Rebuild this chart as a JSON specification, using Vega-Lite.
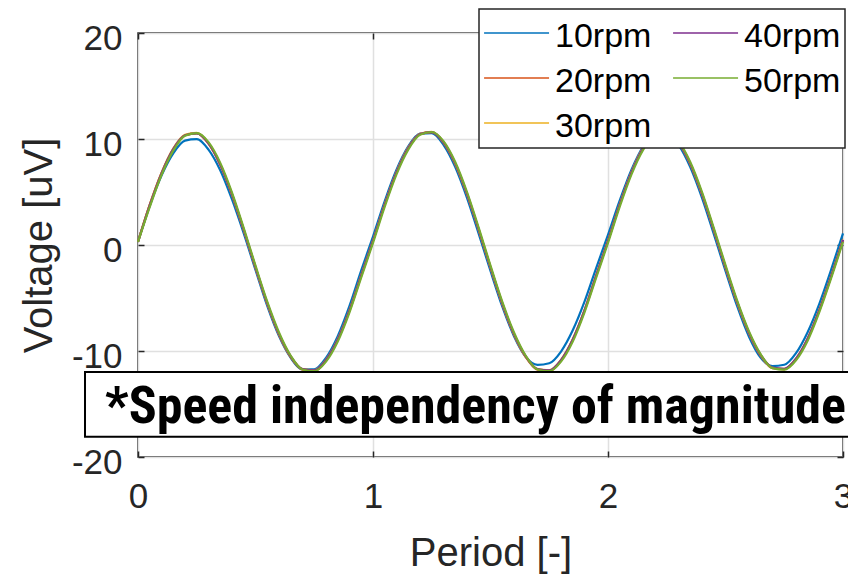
{
  "$schema": "https://vega.github.io/schema/vega-lite/v6.json",
  "width": 705,
  "height": 424,
  "autosize": {"type": "none"},
  "padding": {"left": 138, "top": 33, "right": 5, "bottom": 117},
  "background": "white",
  "config": {
    "font": "Liberation Sans",
    "view": {"stroke": "#262626", "strokeWidth": 1.5},
    "legend": {"strokeWidth": 1.5}
  },
  "layer": [
    {
      "data": {
        "values": [
          {"t": 0.00, "10rpm": 0.3, "20rpm": 0.3, "30rpm": 0.3, "40rpm": 0.3, "50rpm": 0.3},
          {"t": 0.05, "10rpm": 3.7, "20rpm": 3.78, "30rpm": 3.8, "40rpm": 3.76, "50rpm": 3.6},
          {"t": 0.10, "10rpm": 6.55, "20rpm": 6.78, "30rpm": 6.8, "40rpm": 6.76, "50rpm": 6.6},
          {"t": 0.15, "10rpm": 8.65, "20rpm": 9.06, "30rpm": 9.1, "40rpm": 9.05, "50rpm": 8.9},
          {"t": 0.20, "10rpm": 9.85, "20rpm": 10.36, "30rpm": 10.4, "40rpm": 10.36, "50rpm": 10.3},
          {"t": 0.25, "10rpm": 9.98, "20rpm": 10.53, "30rpm": 10.58, "40rpm": 10.54, "50rpm": 10.55},
          {"t": 0.30, "10rpm": 9.0, "20rpm": 9.56, "30rpm": 9.6, "40rpm": 9.6, "50rpm": 9.7},
          {"t": 0.35, "10rpm": 7.05, "20rpm": 7.56, "30rpm": 7.6, "40rpm": 7.6, "50rpm": 7.75},
          {"t": 0.40, "10rpm": 4.3, "20rpm": 4.74, "30rpm": 4.78, "40rpm": 4.8, "50rpm": 4.95},
          {"t": 0.45, "10rpm": 1.1, "20rpm": 1.4, "30rpm": 1.44, "40rpm": 1.45, "50rpm": 1.6},
          {"t": 0.50, "10rpm": -2.35, "20rpm": -2.14, "30rpm": -2.1, "40rpm": -2.08, "50rpm": -1.95},
          {"t": 0.55, "10rpm": -5.75, "20rpm": -5.53, "30rpm": -5.5, "40rpm": -5.48, "50rpm": -5.35},
          {"t": 0.60, "10rpm": -8.6, "20rpm": -8.45, "30rpm": -8.4, "40rpm": -8.38, "50rpm": -8.25},
          {"t": 0.65, "10rpm": -10.65, "20rpm": -10.58, "30rpm": -10.53, "40rpm": -10.5, "50rpm": -10.45},
          {"t": 0.70, "10rpm": -11.72, "20rpm": -11.77, "30rpm": -11.71, "40rpm": -11.7, "50rpm": -11.75},
          {"t": 0.75, "10rpm": -11.72, "20rpm": -11.88, "30rpm": -11.82, "40rpm": -11.82, "50rpm": -11.9},
          {"t": 0.80, "10rpm": -10.65, "20rpm": -10.9, "30rpm": -10.85, "40rpm": -10.86, "50rpm": -11.0},
          {"t": 0.85, "10rpm": -8.6, "20rpm": -8.95, "30rpm": -8.9, "40rpm": -8.92, "50rpm": -9.1},
          {"t": 0.90, "10rpm": -5.75, "20rpm": -6.2, "30rpm": -6.15, "40rpm": -6.17, "50rpm": -6.35},
          {"t": 0.95, "10rpm": -2.4, "20rpm": -2.88, "30rpm": -2.84, "40rpm": -2.86, "50rpm": -3.05},
          {"t": 1.00, "10rpm": 0.8, "20rpm": 0.38, "30rpm": 0.4, "40rpm": 0.38, "50rpm": 0.2},
          {"t": 1.05, "10rpm": 4.15, "20rpm": 3.82, "30rpm": 3.84, "40rpm": 3.8, "50rpm": 3.62},
          {"t": 1.10, "10rpm": 7.1, "20rpm": 6.85, "30rpm": 6.88, "40rpm": 6.84, "50rpm": 6.67},
          {"t": 1.15, "10rpm": 9.3, "20rpm": 9.15, "30rpm": 9.18, "40rpm": 9.14, "50rpm": 9.0},
          {"t": 1.20, "10rpm": 10.5, "20rpm": 10.46, "30rpm": 10.5, "40rpm": 10.46, "50rpm": 10.4},
          {"t": 1.25, "10rpm": 10.55, "20rpm": 10.64, "30rpm": 10.68, "40rpm": 10.64, "50rpm": 10.66},
          {"t": 1.30, "10rpm": 9.45, "20rpm": 9.66, "30rpm": 9.7, "40rpm": 9.7, "50rpm": 9.8},
          {"t": 1.35, "10rpm": 7.35, "20rpm": 7.64, "30rpm": 7.68, "40rpm": 7.7, "50rpm": 7.83},
          {"t": 1.40, "10rpm": 4.45, "20rpm": 4.79, "30rpm": 4.82, "40rpm": 4.85, "50rpm": 5.0},
          {"t": 1.45, "10rpm": 1.05, "20rpm": 1.41, "30rpm": 1.45, "40rpm": 1.46, "50rpm": 1.62},
          {"t": 1.50, "10rpm": -2.45, "20rpm": -2.14, "30rpm": -2.1, "40rpm": -2.08, "50rpm": -1.95},
          {"t": 1.55, "10rpm": -5.8, "20rpm": -5.55, "30rpm": -5.5, "40rpm": -5.48, "50rpm": -5.35},
          {"t": 1.60, "10rpm": -8.6, "20rpm": -8.45, "30rpm": -8.4, "40rpm": -8.38, "50rpm": -8.25},
          {"t": 1.65, "10rpm": -10.55, "20rpm": -10.58, "30rpm": -10.53, "40rpm": -10.5, "50rpm": -10.45},
          {"t": 1.70, "10rpm": -11.3, "20rpm": -11.77, "30rpm": -11.71, "40rpm": -11.7, "50rpm": -11.75},
          {"t": 1.75, "10rpm": -11.15, "20rpm": -11.88, "30rpm": -11.82, "40rpm": -11.82, "50rpm": -11.9},
          {"t": 1.80, "10rpm": -10.05, "20rpm": -10.9, "30rpm": -10.85, "40rpm": -10.86, "50rpm": -11.0},
          {"t": 1.85, "10rpm": -8.05, "20rpm": -8.95, "30rpm": -8.9, "40rpm": -8.92, "50rpm": -9.1},
          {"t": 1.90, "10rpm": -5.35, "20rpm": -6.2, "30rpm": -6.15, "40rpm": -6.17, "50rpm": -6.35},
          {"t": 1.95, "10rpm": -2.15, "20rpm": -2.88, "30rpm": -2.84, "40rpm": -2.86, "50rpm": -3.05},
          {"t": 2.00, "10rpm": 0.95, "20rpm": 0.38, "30rpm": 0.4, "40rpm": 0.38, "50rpm": 0.2},
          {"t": 2.05, "10rpm": 4.2, "20rpm": 3.82, "30rpm": 3.84, "40rpm": 3.8, "50rpm": 3.62},
          {"t": 2.10, "10rpm": 7.1, "20rpm": 6.85, "30rpm": 6.88, "40rpm": 6.84, "50rpm": 6.67},
          {"t": 2.15, "10rpm": 9.3, "20rpm": 9.15, "30rpm": 9.18, "40rpm": 9.14, "50rpm": 9.0},
          {"t": 2.20, "10rpm": 10.5, "20rpm": 10.46, "30rpm": 10.5, "40rpm": 10.46, "50rpm": 10.4},
          {"t": 2.25, "10rpm": 10.55, "20rpm": 10.64, "30rpm": 10.68, "40rpm": 10.64, "50rpm": 10.66},
          {"t": 2.30, "10rpm": 9.45, "20rpm": 9.66, "30rpm": 9.7, "40rpm": 9.7, "50rpm": 9.8},
          {"t": 2.35, "10rpm": 7.35, "20rpm": 7.64, "30rpm": 7.68, "40rpm": 7.7, "50rpm": 7.83},
          {"t": 2.40, "10rpm": 4.45, "20rpm": 4.79, "30rpm": 4.82, "40rpm": 4.85, "50rpm": 5.0},
          {"t": 2.45, "10rpm": 1.05, "20rpm": 1.41, "30rpm": 1.45, "40rpm": 1.46, "50rpm": 1.62},
          {"t": 2.50, "10rpm": -2.45, "20rpm": -2.12, "30rpm": -2.08, "40rpm": -2.06, "50rpm": -1.9},
          {"t": 2.55, "10rpm": -5.8, "20rpm": -5.47, "30rpm": -5.43, "40rpm": -5.4, "50rpm": -5.27},
          {"t": 2.60, "10rpm": -8.65, "20rpm": -8.33, "30rpm": -8.3, "40rpm": -8.28, "50rpm": -8.15},
          {"t": 2.65, "10rpm": -10.65, "20rpm": -10.45, "30rpm": -10.4, "40rpm": -10.38, "50rpm": -10.32},
          {"t": 2.70, "10rpm": -11.42, "20rpm": -11.63, "30rpm": -11.58, "40rpm": -11.57, "50rpm": -11.62},
          {"t": 2.75, "10rpm": -11.3, "20rpm": -11.73, "30rpm": -11.68, "40rpm": -11.68, "50rpm": -11.76},
          {"t": 2.80, "10rpm": -10.2, "20rpm": -10.76, "30rpm": -10.72, "40rpm": -10.73, "50rpm": -10.87},
          {"t": 2.85, "10rpm": -8.2, "20rpm": -8.84, "30rpm": -8.8, "40rpm": -8.82, "50rpm": -9.0},
          {"t": 2.90, "10rpm": -5.5, "20rpm": -6.12, "30rpm": -6.08, "40rpm": -6.1, "50rpm": -6.28},
          {"t": 2.95, "10rpm": -2.3, "20rpm": -2.93, "30rpm": -2.9, "40rpm": -2.92, "50rpm": -3.1},
          {"t": 3.00, "10rpm": 1.1, "20rpm": 0.48, "30rpm": 0.5, "40rpm": 0.48, "50rpm": 0.3}
        ]
      },
      "transform": [
        {"fold": ["10rpm", "20rpm", "30rpm", "40rpm", "50rpm"], "as": ["series", "v"]}
      ],
      "mark": {"type": "line", "strokeWidth": 2.2, "interpolate": "monotone"},
      "encoding": {
        "x": {
          "field": "t",
          "type": "quantitative",
          "scale": {"domain": [0, 3], "nice": false, "zero": false},
          "axis": {
            "orient": "bottom",
            "values": [0, 1, 2, 3],
            "labelExpr": "'' + datum.value",
            "labelFontSize": 35,
            "labelColor": "#262626",
            "labelFlush": false,
            "labelPadding": 28,
            "tickSize": -6,
            "tickColor": "#262626",
            "tickWidth": 1.5,
            "domain": false,
            "grid": true,
            "gridColor": "#e0e0e0",
            "gridWidth": 1.5,
            "title": "Period [-]",
            "titleFontSize": 40,
            "titleFontWeight": "normal",
            "titleColor": "#262626",
            "titlePadding": 19
          }
        },
        "y": {
          "field": "v",
          "type": "quantitative",
          "scale": {"domain": [-20, 20], "nice": false, "zero": false},
          "axis": {
            "orient": "left",
            "values": [-20, -10, 0, 10, 20],
            "labelExpr": "'' + datum.value",
            "labelFontSize": 35,
            "labelColor": "#262626",
            "labelFlush": false,
            "labelPadding": 22,
            "labelOffset": 5,
            "tickSize": -6,
            "tickColor": "#262626",
            "tickWidth": 1.5,
            "domain": false,
            "grid": true,
            "gridColor": "#e0e0e0",
            "gridWidth": 1.5,
            "title": "Voltage [uV]",
            "titleFontSize": 40,
            "titleFontWeight": "normal",
            "titleColor": "#262626",
            "titlePadding": 12
          }
        },
        "color": {
          "field": "series",
          "type": "nominal",
          "scale": {
            "domain": ["10rpm", "20rpm", "30rpm", "40rpm", "50rpm"],
            "range": ["#0072BD", "#D95319", "#EDB120", "#7E2F8E", "#77AC30"]
          },
          "legend": {
            "orient": "none",
            "legendX": 341,
            "legendY": -24,
            "columns": 2,
            "title": " ",
            "titleFontSize": 1,
            "titlePadding": 6,
            "fillColor": "white",
            "strokeColor": "#262626",
            "padding": 4,
            "symbolType": "M-1.47,-0.37H4.53",
            "symbolSize": 469,
            "symbolStrokeWidth": 1.5,
            "labelFontSize": 34,
            "labelColor": "black",
            "labelOffset": 38,
            "labelLimit": 0,
            "rowPadding": 11,
            "columnPadding": 18
          }
        }
      }
    },
    {
      "data": {"values": [{"x1": -0.2255, "x2": 3.2, "y1": -11.98, "y2": -18.1}]},
      "mark": {"type": "rect", "fill": "white", "stroke": "black", "strokeWidth": 2},
      "encoding": {
        "x": {
          "field": "x1",
          "type": "quantitative",
          "axis": {
            "orient": "top",
            "values": [0, 1, 2, 3],
            "labels": false,
            "title": null,
            "grid": false,
            "domain": false,
            "tickSize": -6,
            "tickColor": "#262626",
            "tickWidth": 1.5
          }
        },
        "x2": {"field": "x2"},
        "y": {
          "field": "y1",
          "type": "quantitative",
          "axis": {
            "orient": "right",
            "values": [-20, -10, 0, 10, 20],
            "labels": false,
            "title": null,
            "grid": false,
            "domain": false,
            "tickSize": -6,
            "tickColor": "#262626",
            "tickWidth": 1.5
          }
        },
        "y2": {"field": "y2"}
      }
    },
    {
      "data": {"values": [{"x": -0.14, "y": -16.8, "label": "*Speed independency of magnitude"}]},
      "mark": {
        "type": "text",
        "align": "left",
        "baseline": "alphabetic",
        "font": "Roboto Condensed, DejaVu Sans Condensed, sans-serif",
        "fontWeight": "bold",
        "fontSize": 52,
        "color": "black"
      },
      "encoding": {
        "x": {"field": "x", "type": "quantitative", "axis": null},
        "y": {"field": "y", "type": "quantitative", "axis": null},
        "text": {"field": "label"}
      }
    }
  ],
  "resolve": {"axis": {"x": "independent", "y": "independent"}}
}
